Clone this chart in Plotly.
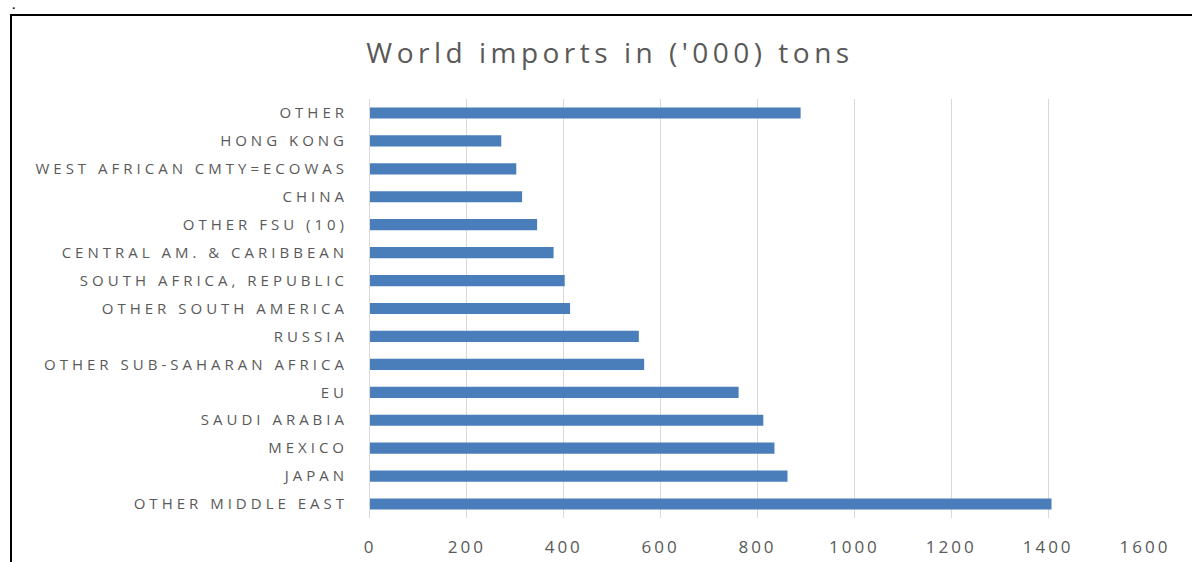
import plotly.graph_objects as go

# Import volumes by destination, in thousand tons (top to bottom)
regions = [
    "OTHER",
    "HONG KONG",
    "WEST AFRICAN CMTY=ECOWAS",
    "CHINA",
    "OTHER FSU (10)",
    "CENTRAL AM. & CARIBBEAN",
    "SOUTH AFRICA, REPUBLIC",
    "OTHER SOUTH AMERICA",
    "RUSSIA",
    "OTHER SUB-SAHARAN AFRICA",
    "EU",
    "SAUDI ARABIA",
    "MEXICO",
    "JAPAN",
    "OTHER MIDDLE EAST",
]
imports_kt = [889, 271, 302, 314, 345, 379, 402, 413, 555, 566, 761, 812, 835, 862, 1407]
x_ticks = [0, 200, 400, 600, 800, 1000, 1200, 1400, 1600]

W, H = 1192, 562
L, R, T, B = 370, 47, 99, 44
TEXT = "#595959"
GRID = "#d9d9d9"
BAR = "#4a7ebb"


def px(x):
    """Page pixel column -> paper x."""
    return (x - L) / (W - L - R)


def py(y):
    """Page pixel row -> paper y."""
    return (H - B - y) / (H - T - B)


fig = go.Figure(
    go.Bar(
        x=imports_kt,
        y=regions,
        orientation="h",
        width=0.4,
        marker=dict(color=BAR, line=dict(width=0)),
        hoverinfo="x+y",
    )
)

# frame line along the left and top edges
frame = f"M {px(11)},{py(H)} L {px(11)},{py(15)} L {px(W)},{py(15)}"

fig.update_layout(
    width=W,
    height=H,
    margin=dict(l=L, r=R, t=T, b=B, autoexpand=False),
    paper_bgcolor="white",
    plot_bgcolor="white",
    showlegend=False,
    font=dict(family="Open Sans, sans-serif", color=TEXT),
    title=dict(
        text="World imports in ('000) tons",
        x=610 / W,
        xref="container",
        xanchor="center",
        y=1 - 53 / H,
        yref="container",
        yanchor="middle",
        font=dict(family="Open Sans, sans-serif", size=28, color=TEXT),
    ),
    xaxis=dict(
        range=[0, 1600],
        tickvals=x_ticks,
        ticktext=[str(v) for v in x_ticks],
        showgrid=True,
        gridcolor=GRID,
        gridwidth=1,
        zeroline=False,
        showline=False,
        ticks="",
        ticklabelstandoff=17,
        tickfont=dict(size=17, color=TEXT),
        automargin=False,
        fixedrange=True,
    ),
    yaxis=dict(
        autorange="reversed",
        showgrid=False,
        showline=True,
        linecolor=GRID,
        linewidth=1,
        ticks="",
        ticklabelstandoff=18,
        tickfont=dict(size=15, color=TEXT),
        automargin=False,
        fixedrange=True,
    ),
    shapes=[
        dict(
            type="path",
            xref="paper",
            yref="paper",
            path=frame,
            line=dict(color="black", width=2),
            layer="above",
        )
    ],
    annotations=[
        dict(
            text="<b>.</b>",
            xref="paper",
            yref="paper",
            x=px(13),
            y=py(0),
            xanchor="center",
            yanchor="top",
            borderpad=0,
            showarrow=False,
            font=dict(size=9, color="black", family="DejaVu Sans"),
        )
    ],
)

spacing_css = (
    ".ytick text{letter-spacing:4px}"
    ".xtick text{letter-spacing:3px}"
    ".gtitle{letter-spacing:4.5px}"
)
post = (
    "var s=document.createElement('style');"
    f"s.textContent='{spacing_css}';"
    "document.head.appendChild(s);"
)

fig.write_html("out.html", post_script=post, config={"displayModeBar": False})
